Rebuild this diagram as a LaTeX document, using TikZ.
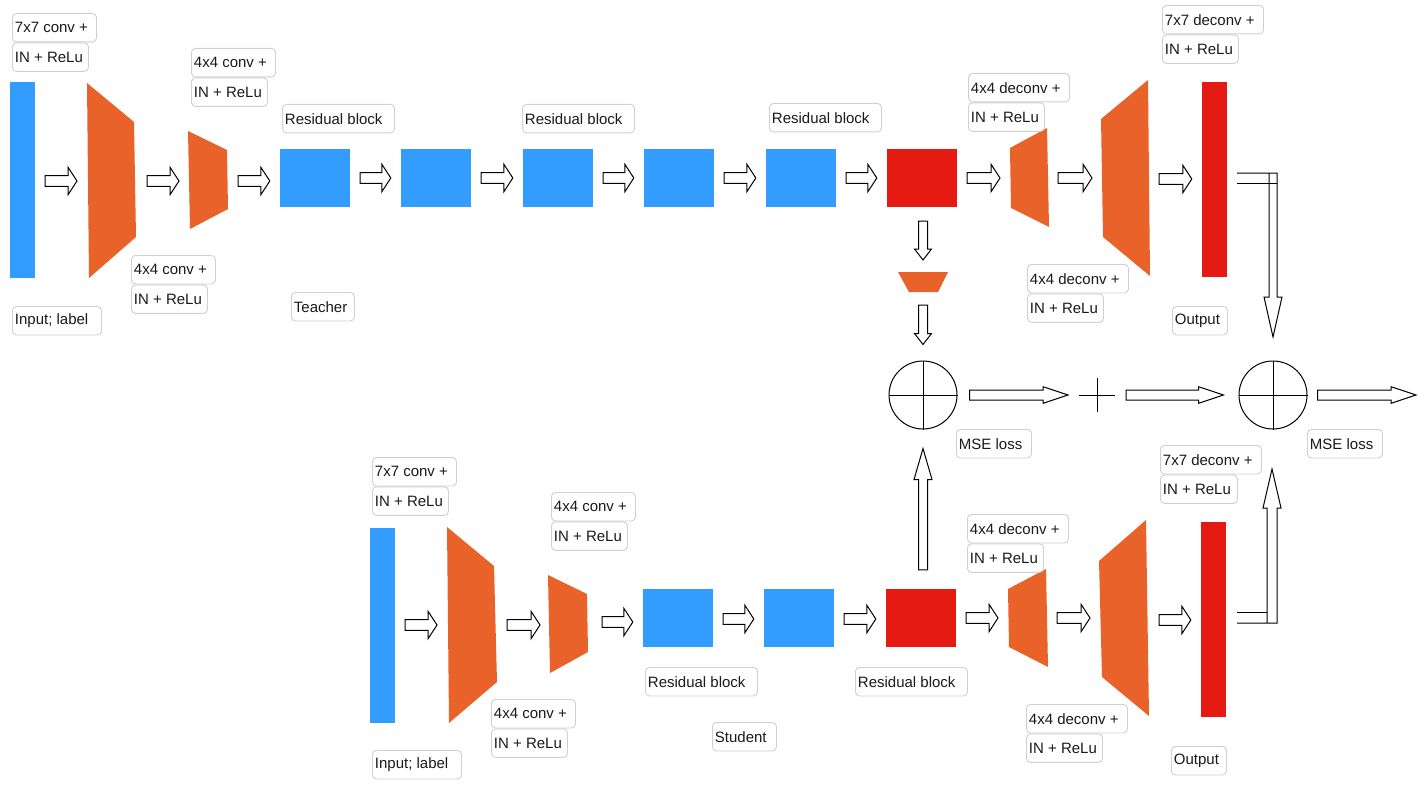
\documentclass[tikz,border=0pt]{standalone}
\usepackage{fontspec}
\setmainfont{Liberation Sans}
\usetikzlibrary{calc}

\definecolor{resblue}{RGB}{51,157,255}
\definecolor{convorange}{RGB}{233,98,42}
\definecolor{featred}{RGB}{228,26,19}
\definecolor{tagborder}{RGB}{208,208,208}
\definecolor{tagtext}{RGB}{26,26,26}

\tikzset{
  tag/.style={draw=tagborder, line width=0.9pt, rounded corners=4pt, fill=white,
    anchor=north west, inner xsep=2.5pt, inner ysep=0pt, minimum height=28.5pt,
    font=\fontsize{15}{18}\selectfont, text=tagtext},
  featbar/.style={minimum width=25pt, minimum height=195pt, inner sep=0pt},
  resbox/.style={minimum width=70pt, minimum height=58pt, inner sep=0pt},
  arrowline/.style={draw=black, fill=white, line width=1pt, line join=miter},
  ring/.style={circle, draw=black, line width=1pt, minimum size=68pt, inner sep=0pt},
  thinline/.style={draw=black, line width=1pt},
}

% label box: name, top-left corner, box width (pt), text
\newcommand\tagnode[4]{%
  \node[tag] (#1) at (#2) {\makebox[\dimexpr#3pt-5pt\relax][l]{#4}};}

% hollow block arrow: start, tip, shaft half width, head half width, head length
\newcommand\blockarr[5]{%
  \coordinate (ba-h) at ($(#2)!#5!(#1)$);
  \draw[arrowline] ($(#1)!#3!90:(#2)$) -- ($(ba-h)!#3!90:(#2)$)
    -- ($(ba-h)!#4!90:(#2)$) -- (#2) -- ($(ba-h)!#4!-90:(#2)$)
    -- ($(ba-h)!#3!-90:(#2)$) -- ($(#1)!#3!-90:(#2)$) -- cycle;}

% short arrow between two stages of a row, at height #3
\newcommand\rowarr[3]{%
  \coordinate (ra-y) at (0,#3);
  \coordinate (ra-s) at ($(#1 |- ra-y)+(10,0)$);
  \coordinate (ra-e) at ($(#2 |- ra-y)+(-10,0)$);
  \blockarr{ra-s}{ra-e}{5.3pt}{13.8pt}{9pt}}

\begin{document}
\begin{tikzpicture}[x=1pt, y=-1pt]
\fill[white] (0,0) rectangle (1427,789);
\useasboundingbox (0,0) rectangle (1427,789);

% ---------------- teacher network ----------------
\node[featbar, fill=resblue] (tin) at (22.5,180) {};
\fill[convorange] (87,83) -- (134,122) -- (136,237) -- (89,278) -- cycle;
\coordinate (tc1w) at (87,180); \coordinate (tc1e) at (137,180);
\fill[convorange] (188,131) -- (227,150) -- (228,209) -- (190,229) -- cycle;
\coordinate (tc2w) at (189,180); \coordinate (tc2e) at (228,180);
\node[resbox, fill=resblue] (tr1) at (315,178) {};
\node[resbox, fill=resblue] (tr2) at (436,178) {};
\node[resbox, fill=resblue] (tr3) at (558,178) {};
\node[resbox, fill=resblue] (tr4) at (679,178) {};
\node[resbox, fill=resblue] (tr5) at (801,178) {};
\node[resbox, fill=featred] (tred) at (922,178) {};
\fill[convorange] (1010,148) -- (1047,128) -- (1049,227) -- (1011,208) -- cycle;
\coordinate (tc3w) at (1010,178); \coordinate (tc3e) at (1048,178);
\fill[convorange] (1101,119) -- (1148,80) -- (1150,276) -- (1103,237) -- cycle;
\coordinate (tc4w) at (1102,178); \coordinate (tc4e) at (1149,178);
\node[featbar, fill=featred] (tout) at (1214.5,179.5) {};

\rowarr{tin.east}{tc1w}{181}
\rowarr{tc1e}{tc2w}{181}
\rowarr{tc2e}{tr1.west}{181}
\rowarr{tr1.east}{tr2.west}{178}
\rowarr{tr2.east}{tr3.west}{178}
\rowarr{tr3.east}{tr4.west}{178}
\rowarr{tr4.east}{tr5.west}{178}
\rowarr{tr5.east}{tred.west}{178}
\rowarr{tred.east}{tc3w}{178}
\rowarr{tc3e}{tc4w}{178}
\rowarr{tc4e}{tout.west}{179}

\tagnode{tl1a}{12,13}{84}{7x7 conv +}
\tagnode{tl1b}{tl1a.south west}{76}{IN + ReLu}
\tagnode{tl2a}{191,48}{84}{4x4 conv +}
\tagnode{tl2b}{tl2a.south west}{76}{IN + ReLu}
\tagnode{tl3a}{131,255}{84}{4x4 conv +}
\tagnode{tl3b}{tl3a.south west}{76}{IN + ReLu}
\tagnode{tlin}{12,306}{89}{Input; label}
\tagnode{tlr1}{282,104}{112}{Residual block}
\tagnode{tlr2}{522,104}{112}{Residual block}
\tagnode{tlr3}{769,103}{112}{Residual block}
\tagnode{tlname}{291,292}{63}{Teacher}
\tagnode{tl4a}{968,73}{101}{4x4 deconv +}
\tagnode{tl4b}{tl4a.south west}{76}{IN + ReLu}
\tagnode{tl5a}{1162,5}{101}{7x7 deconv +}
\tagnode{tl5b}{tl5a.south west}{76}{IN + ReLu}
\tagnode{tl6a}{1027,264}{101}{4x4 deconv +}
\tagnode{tl6b}{tl6a.south west}{76}{IN + ReLu}
\tagnode{tlout}{1172,306}{55}{Output}

% ---------------- distillation branch ----------------
\coordinate (pool) at (923,282);
\fill[convorange] (898,272) -- (948,272) -- (938,292) -- (909,292) -- cycle;
\node[ring] (c1) at (923,395) {};
\draw[thinline] (c1.north) -- (c1.south) (c1.west) -- (c1.east);
\node[ring] (c2) at (1273,395) {};
\draw[thinline] (c2.north) -- (c2.south) (c2.west) -- (c2.east);
\coordinate (plus) at (1097,395);
\draw[thinline] ($(plus)+(-18,0)$) -- ($(plus)+(18,0)$)
  ($(plus)+(0,-17)$) -- ($(plus)+(0,17)$);

\coordinate (va1s) at ($(c1 |- tred.south)+(0,14)$);
\coordinate (va1e) at ($(pool)+(0,-22)$);
\blockarr{va1s}{va1e}{4.5pt}{8.5pt}{11pt}
\coordinate (va2s) at ($(pool)+(0,23)$);
\coordinate (va2e) at ($(c1.north)+(0,-16)$);
\blockarr{va2s}{va2e}{4.5pt}{8.5pt}{11pt}

\coordinate (ha1s) at ($(c1.east)+(12,0)$);
\coordinate (ha1e) at ($(plus)+(-29,0)$);
\blockarr{ha1s}{ha1e}{5pt}{8.3pt}{25pt}
\coordinate (ha2s) at ($(plus)+(29,0)$);
\coordinate (ha2e) at ($(c2.west)+(-15,0)$);
\blockarr{ha2s}{ha2e}{5pt}{8.3pt}{25pt}
\coordinate (ha3s) at ($(c2.east)+(10,0)$);
\coordinate (lossout) at (1416,395);
\blockarr{ha3s}{lossout}{5pt}{8.3pt}{25pt}

% teacher output bent down into the second loss
\draw[line width=1pt, line join=miter] (1237,173) -- (1277,173) -- (1277,297) -- (1282,297)
  -- (1273,337) -- (1264,297) -- (1269,297) -- (1269,173);
\draw[line width=1pt] (1237,183) -- (1277,183);

\tagnode{mse1}{956,429}{75}{MSE loss}
\tagnode{mse2}{1307,429}{75}{MSE loss}

% ---------------- student network ----------------
\node[featbar, fill=resblue] (sin) at (382.5,625) {};
\fill[convorange] (447,527) -- (494,566) -- (497,682) -- (449,723) -- cycle;
\coordinate (sc1w) at (447,625); \coordinate (sc1e) at (497,625);
\fill[convorange] (548,575) -- (587,594) -- (588,652) -- (550,673) -- cycle;
\coordinate (sc2w) at (550,622); \coordinate (sc2e) at (592,622);
\node[resbox, fill=resblue] (sr1) at (678,618) {};
\node[resbox, fill=resblue] (sr2) at (799,618) {};
\node[resbox, fill=featred] (sred) at (921,618) {};
\fill[convorange] (1008,589) -- (1046,569) -- (1048,667) -- (1009,647) -- cycle;
\coordinate (sc3w) at (1008,618); \coordinate (sc3e) at (1047,618);
\fill[convorange] (1099,561) -- (1146,520) -- (1149,716) -- (1102,677) -- cycle;
\coordinate (sc4w) at (1100,618); \coordinate (sc4e) at (1149,618);
\node[featbar, fill=featred] (sout) at (1213.5,619.5) {};

\rowarr{sin.east}{sc1w}{625}
\rowarr{sc1e}{sc2w}{625}
\rowarr{sc2e}{sr1.west}{622}
\rowarr{sr1.east}{sr2.west}{619}
\rowarr{sr2.east}{sred.west}{619}
\rowarr{sred.east}{sc3w}{618}
\rowarr{sc3e}{sc4w}{618}
\rowarr{sc4e}{sout.west}{620}

% student feature up into the first loss
\coordinate (va3s) at ($(c1 |- sred.north)+(0,-19)$);
\coordinate (va3e) at ($(c1.south)+(0,19)$);
\blockarr{va3s}{va3e}{4.5pt}{9pt}{31pt}

% student output bent up into the second loss
\draw[line width=1pt] (1237,612) -- (1267,612);
\draw[line width=1pt, line join=miter] (1237,623) -- (1277,623) -- (1277,508) -- (1281,508)
  -- (1272,469) -- (1263,508) -- (1267,508) -- (1267,623);

\tagnode{sl1a}{372,457}{84}{7x7 conv +}
\tagnode{sl1b}{sl1a.south west}{76}{IN + ReLu}
\tagnode{sl2a}{551,492}{84}{4x4 conv +}
\tagnode{sl2b}{sl2a.south west}{76}{IN + ReLu}
\tagnode{sl3a}{491,699}{84}{4x4 conv +}
\tagnode{sl3b}{sl3a.south west}{76}{IN + ReLu}
\tagnode{slin}{372,750}{89}{Input; label}
\tagnode{slr1}{645,667}{112}{Residual block}
\tagnode{slr2}{855,667}{112}{Residual block}
\tagnode{slname}{712,722}{64}{Student}
\tagnode{sl4a}{967,514}{101}{4x4 deconv +}
\tagnode{sl4b}{sl4a.south west}{76}{IN + ReLu}
\tagnode{sl5a}{1026,704}{101}{4x4 deconv +}
\tagnode{sl5b}{sl5a.south west}{76}{IN + ReLu}
\tagnode{sl6a}{1160,445}{101}{7x7 deconv +}
\tagnode{sl6b}{sl6a.south west}{77}{IN + ReLu}
\tagnode{slout}{1171,746}{55}{Output}
\end{tikzpicture}
\end{document}
